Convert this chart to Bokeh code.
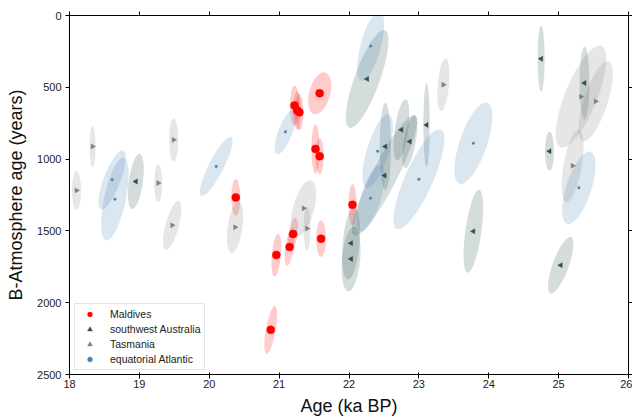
from bokeh.plotting import figure
from bokeh.models import (Range1d, LinearAxis, FixedTicker, Legend, LegendItem,
                          ColumnDataSource, CustomLabelingPolicy)
from bokeh.embed import file_html
from bokeh.resources import INLINE

# ---- data ----
x_ticks = [18, 19, 20, 21, 22, 23, 24, 25, 26]
y_ticks = [0, 500, 1000, 1500, 2000, 2500]

# Maldives
mal_age = [21.58, 21.22, 21.26, 21.29, 21.52, 21.58, 20.38, 21.20, 21.60, 21.15, 20.96, 20.88, 22.05]
mal_batm = [542, 627, 662, 674, 929, 980, 1267, 1522, 1554, 1612, 1668, 2189, 1318]
mal_w = [0.30, 0.13, 0.115, 0.115, 0.115, 0.12, 0.13, 0.13, 0.14, 0.12, 0.13, 0.14, 0.115]
mal_h = [300, 278, 264, 250, 348, 250, 257, 230, 257, 265, 300, 340, 285]
mal_ang = [-15, 0, 0, 0, 0, 0, 0, -8, 0, -8, -5, -10, 0]

# southwest Australia
swa_age = [18.95, 22.26, 22.52, 22.51, 22.75, 22.87, 23.11, 22.03, 22.03, 23.78, 24.75, 24.87, 25.37, 25.03]
swa_batm = [1156, 442, 912, 1114, 796, 878, 762, 1586, 1695, 1503, 301, 945, 470, 1739]
swa_w = [0.20, 0.36, 0.16, 0.36, 0.19, 0.17, 0.09, 0.24, 0.26, 0.23, 0.10, 0.13, 0.14, 0.23]
swa_h = [389, 723, 611, 938, 431, 375, 584, 507, 452, 584, 459, 271, 507, 417]
swa_ang = [-8, -20, 0, -27, -8, -10, 0, -5, -5, -8, 0, 0, 0, -20]

# Tasmania
tas_age = [18.10, 18.33, 19.27, 19.49, 19.47, 20.37, 21.35, 21.40, 23.35, 25.32, 25.53, 25.20]
tas_batm = [1218, 912, 1167, 866, 1461, 1475, 1343, 1484, 482, 565, 598, 1047]
tas_w = [0.13, 0.086, 0.115, 0.13, 0.19, 0.21, 0.30, 0.10, 0.16, 0.46, 0.34, 0.26]
tas_h = [271, 292, 264, 299, 354, 361, 403, 306, 368, 764, 584, 514]
tas_ang = [0, 0, 0, 0, -15, -8, -15, 0, -5, -22, -18, -10]

# equatorial Atlantic
atl_age = [18.61, 18.65, 20.10, 21.09, 22.31, 22.41, 22.31, 23.00, 23.78, 25.29]
atl_batm = [1144, 1279, 1051, 810, 213, 945, 1272, 1140, 889, 1200]
atl_w = [0.24, 0.31, 0.215, 0.20, 0.29, 0.31, 0.29, 0.40, 0.39, 0.36]
atl_h = [438, 590, 459, 334, 500, 535, 486, 757, 598, 528]
atl_ang = [-21, -12, -27, -21, -15, -17, -17, -24, -19, -18]

FONT = "Liberation Sans"

p = figure(width=632, height=418, output_backend="svg", toolbar_location=None,
           x_range=Range1d(18, 26), y_range=Range1d(2500, 0),
           min_border_left=69, min_border_right=4, min_border_top=15, min_border_bottom=44)
p.grid.visible = False
p.outline_line_color = "black"
p.background_fill_color = "white"

series = [
    ("Maldives", mal_age, mal_batm, mal_w, mal_h, mal_ang, "#ff0000", "circle", 8, 0),
    ("southwest Australia", swa_age, swa_batm, swa_w, swa_h, swa_ang, "#2f4f4f", "triangle", 5, 90),
    ("Tasmania", tas_age, tas_batm, tas_w, tas_h, tas_ang, "#808080", "triangle", 5, -90),
    ("equatorial Atlantic", atl_age, atl_batm, atl_w, atl_h, atl_ang, "#4682b4", "circle", 2.5, 0),
]

srcs = []
for name, xs, ys, ws, hs, angs, col, mk, sz, mang in series:
    src = ColumnDataSource(dict(x=xs, y=ys, w=ws, h=hs, a=angs))
    srcs.append(src)
    p.ellipse(x="x", y="y", width="w", height="h", angle="a", angle_units="deg",
              source=src, fill_color=col, fill_alpha=0.2, line_color=None)

items = []
for (name, xs, ys, ws, hs, angs, col, mk, sz, mang), src in zip(series, srcs):
    r = p.scatter(x="x", y="y", source=src, marker=mk, size=sz, angle=mang, angle_units="deg",
                  fill_color=col, line_color=col, line_width=0.5)
    items.append(LegendItem(label=name, renderers=[r]))

legend = Legend(items=items, location=(5, 4), label_text_font=FONT, label_text_font_size="10.5px",
                label_text_color="#222222", glyph_width=21, glyph_height=12, spacing=3,
                padding=4, label_standoff=10, margin=0, label_height=12,
                border_line_color="#cccccc", border_line_width=1,
                background_fill_color="white", background_fill_alpha=0.8)
p.add_layout(legend, "center")

for ax in (p.xaxis[0], p.yaxis[0]):
    ax.axis_line_color = "black"
    ax.major_tick_line_color = "black"
    ax.major_tick_out = 4
    ax.major_tick_in = 0
    ax.minor_tick_out = 0
    ax.minor_tick_in = 0
    ax.major_label_text_font = FONT
    ax.major_label_text_font_size = "11px"
    ax.major_label_text_color = "#222222"
    ax.axis_label_text_font = FONT
    ax.axis_label_text_font_size = "18px"
    ax.axis_label_text_font_style = "normal"
    ax.axis_label_text_color = "#111111"

p.xaxis[0].ticker = FixedTicker(ticks=x_ticks)
p.yaxis[0].ticker = FixedTicker(ticks=y_ticks)
p.xaxis[0].axis_label = "Age (ka BP)"
p.yaxis[0].axis_label = "B-Atmosphere age (years)"
p.xaxis[0].major_tick_in = 2
p.xaxis[0].major_label_standoff = 1
p.xaxis[0].axis_label_standoff = 5
p.yaxis[0].major_label_standoff = 4
p.yaxis[0].axis_label_standoff = 8

no_labels = "for (const i of indices) indices.unset(i)"
top = LinearAxis(ticker=FixedTicker(ticks=x_ticks), major_label_text_font_size="0px",
                 major_label_policy=CustomLabelingPolicy(code=no_labels),
                 major_label_standoff=0, major_tick_out=4, major_tick_in=0,
                 minor_tick_out=0, minor_tick_in=0, axis_line_color="black")
right = LinearAxis(ticker=FixedTicker(ticks=y_ticks), major_label_text_font_size="0px",
                   major_label_policy=CustomLabelingPolicy(code=no_labels),
                   major_label_standoff=0, major_tick_out=4, major_tick_in=0,
                   minor_tick_out=0, minor_tick_in=0, axis_line_color="black")
p.add_layout(top, "above")
p.add_layout(right, "right")

open("out.html", "w").write(file_html(p, INLINE))
